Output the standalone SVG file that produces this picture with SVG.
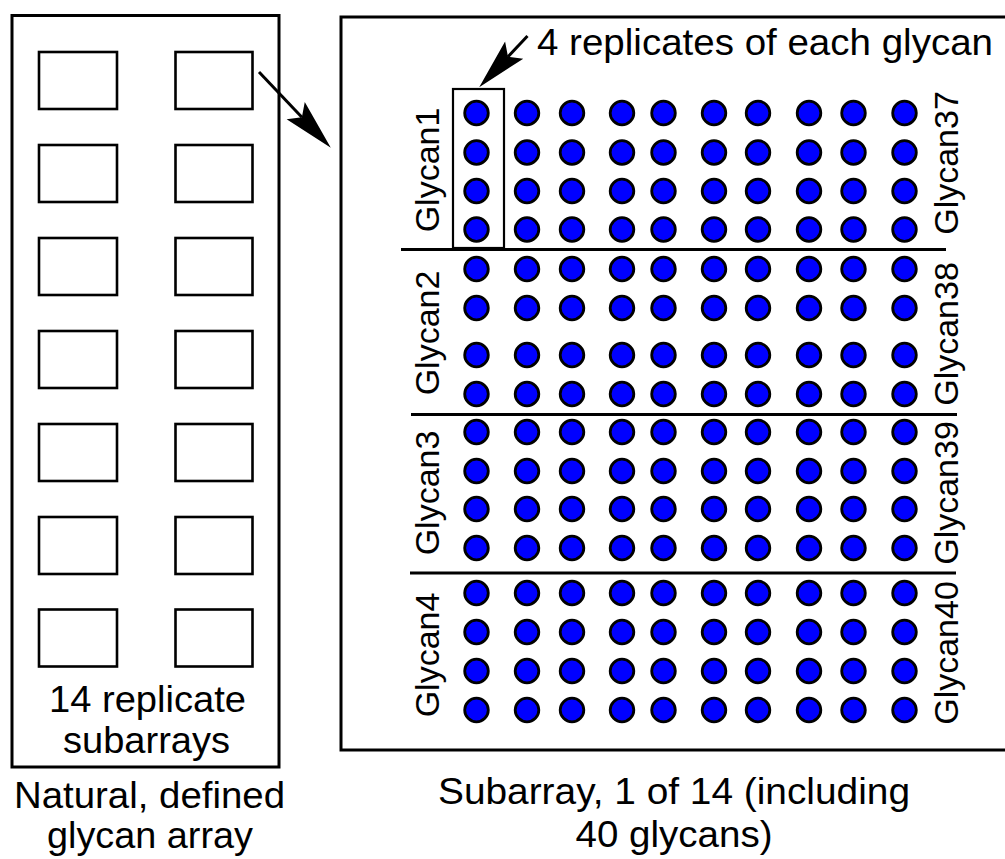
<svg xmlns="http://www.w3.org/2000/svg" xmlns:xlink="http://www.w3.org/1999/xlink" width="1005" height="859" viewBox="0 0 1005 859">
<style>
.frame{fill:none;stroke:#000;stroke-width:3}
.sub{fill:none;stroke:#000;stroke-width:2.6}
.sep{stroke:#000;stroke-width:3}
.dot{fill:#0000ff;stroke:#000;stroke-width:2.8}
.t{font-family:"Liberation Sans",Arial,sans-serif;font-size:36px;fill:#000;text-anchor:middle}
.g{font-family:"Liberation Sans",Arial,sans-serif;font-size:34px;fill:#000;text-anchor:middle}
.arr{stroke:#000;stroke-width:3;fill:none}
</style>
<defs>
<marker id="stealth" markerUnits="userSpaceOnUse" viewBox="-53 -14 55 28" markerWidth="55" markerHeight="28" refX="-42" refY="0" orient="auto" overflow="visible">
<path d="M0,0 L-51,-12.5 L-42,0 L-51,12.5 Z" fill="#000"/>
</marker>
<g id="row">
<circle class="dot" cx="476.5" cy="0" r="11.8"/>
<circle class="dot" cx="527" cy="0" r="11.8"/>
<circle class="dot" cx="572" cy="0" r="11.8"/>
<circle class="dot" cx="622" cy="0" r="11.8"/>
<circle class="dot" cx="663.5" cy="0" r="11.8"/>
<circle class="dot" cx="714" cy="0" r="11.8"/>
<circle class="dot" cx="758" cy="0" r="11.8"/>
<circle class="dot" cx="809" cy="0" r="11.8"/>
<circle class="dot" cx="853.5" cy="0" r="11.8"/>
<circle class="dot" cx="904.5" cy="0" r="11.8"/>
</g>
</defs>
<rect width="1005" height="859" fill="#fff"/>

<g id="glycan-array">
<rect class="frame" x="12" y="15.5" width="267" height="751.5"/>
<rect class="sub" x="39" y="52" width="78" height="57"/>
<rect class="sub" x="175.5" y="52" width="77" height="57"/>
<rect class="sub" x="39" y="145" width="78" height="57"/>
<rect class="sub" x="175.5" y="145" width="77" height="57"/>
<rect class="sub" x="39" y="238" width="78" height="57"/>
<rect class="sub" x="175.5" y="238" width="77" height="57"/>
<rect class="sub" x="39" y="331" width="78" height="57"/>
<rect class="sub" x="175.5" y="331" width="77" height="57"/>
<rect class="sub" x="39" y="424" width="78" height="57"/>
<rect class="sub" x="175.5" y="424" width="77" height="57"/>
<rect class="sub" x="39" y="517" width="78" height="57"/>
<rect class="sub" x="175.5" y="517" width="77" height="57"/>
<rect class="sub" x="39" y="609.5" width="78" height="57"/>
<rect class="sub" x="175.5" y="609.5" width="77" height="57"/>
<text class="t" x="147.5" y="712" textLength="197" lengthAdjust="spacingAndGlyphs">14 replicate</text>
<text class="t" x="146.5" y="753" textLength="167" lengthAdjust="spacingAndGlyphs">subarrays</text>
<text class="t" x="149.5" y="808" textLength="271" lengthAdjust="spacingAndGlyphs">Natural, defined</text>
<text class="t" x="150" y="848" textLength="206" lengthAdjust="spacingAndGlyphs">glycan array</text>
</g>

<g id="subarray">
<rect class="frame" x="341" y="17" width="680" height="733"/>
<line class="sep" x1="401" y1="249.5" x2="946" y2="249.5"/>
<line class="sep" x1="411" y1="414.5" x2="957" y2="414.5"/>
<line class="sep" x1="410" y1="573" x2="956" y2="573"/>
<use xlink:href="#row" href="#row" y="113"/>
<use xlink:href="#row" href="#row" y="152.5"/>
<use xlink:href="#row" href="#row" y="191"/>
<use xlink:href="#row" href="#row" y="229.5"/>
<use xlink:href="#row" href="#row" y="269"/>
<use xlink:href="#row" href="#row" y="308"/>
<use xlink:href="#row" href="#row" y="355"/>
<use xlink:href="#row" href="#row" y="394"/>
<use xlink:href="#row" href="#row" y="432"/>
<use xlink:href="#row" href="#row" y="471"/>
<use xlink:href="#row" href="#row" y="509"/>
<use xlink:href="#row" href="#row" y="548"/>
<use xlink:href="#row" href="#row" y="593"/>
<use xlink:href="#row" href="#row" y="632"/>
<use xlink:href="#row" href="#row" y="671"/>
<use xlink:href="#row" href="#row" y="710"/>
<text class="g" transform="translate(439,170) rotate(-90)">Glycan1</text>
<text class="g" transform="translate(439,333) rotate(-90)">Glycan2</text>
<text class="g" transform="translate(439,493) rotate(-90)">Glycan3</text>
<text class="g" transform="translate(439,655) rotate(-90)">Glycan4</text>
<text class="g" transform="translate(958,163) rotate(-90)">Glycan37</text>
<text class="g" transform="translate(958,334) rotate(-90)">Glycan38</text>
<text class="g" transform="translate(958,493) rotate(-90)">Glycan39</text>
<text class="g" transform="translate(958,653) rotate(-90)">Glycan40</text>
<text class="t" x="674" y="804" textLength="472" lengthAdjust="spacingAndGlyphs">Subarray, 1 of 14 (including</text>
<text class="t" x="674" y="847" textLength="197" lengthAdjust="spacingAndGlyphs">40 glycans)</text>
</g>

<g id="replicates-label">
<rect x="453" y="89" width="51" height="159" fill="none" stroke="#000" stroke-width="2.2"/>
<text class="t" x="765" y="55" textLength="456" lengthAdjust="spacingAndGlyphs">4 replicates of each glycan</text>
</g>

<g id="connectors">
<line class="arr" x1="259" y1="72" x2="301.9" y2="117.2" marker-end="url(#stealth)"/>
<line class="arr" x1="527.5" y1="36" x2="508" y2="56.7" marker-end="url(#stealth)"/>
</g>
</svg>
